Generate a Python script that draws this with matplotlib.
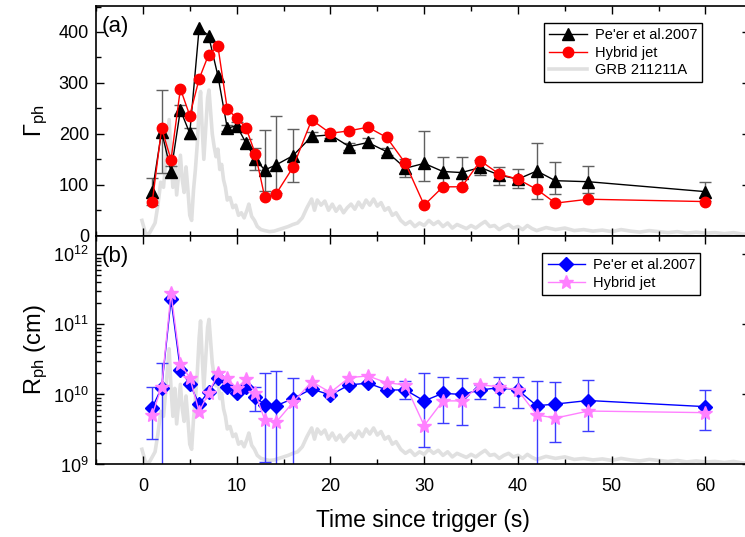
import numpy as np
import matplotlib
matplotlib.use("Agg")
import matplotlib.pyplot as plt
import matplotlib.transforms as mtransforms
from matplotlib.ticker import MultipleLocator, LogLocator, NullFormatter

plt.rcParams['font.family'] = ['Liberation Sans', 'DejaVu Sans']
plt.rcParams['mathtext.fontset'] = 'custom'
plt.rcParams['mathtext.rm'] = 'Liberation Sans'
plt.rcParams['mathtext.it'] = 'Liberation Sans:italic'
plt.rcParams['mathtext.bf'] = 'Liberation Sans:bold'

# ---------------- data ----------------
time = [1, 2, 3, 4, 5, 6, 7, 8, 9, 10, 11, 12, 13, 14.2, 16, 18, 20, 22, 24, 26,
        28, 30, 32, 34, 36, 38, 40, 42, 44, 47.5, 60]

gamma_peer = [86.5, 204.5, 126, 247, 201, 408, 393, 314, 211, 216, 182, 150, 129, 139, 157,
              195, 198, 175, 183, 165, 132.5, 142, 126, 124, 134, 119, 111,
              127, 108, 106, 86.5]
gamma_peer_lo = [60, 123, 116, 238, 190, np.nan, np.nan, np.nan, 205, 208, 172, 129, 87, 84, 106,
                 187, 192, 168, 175, 158, 116, 108, 96, 94, 119, 100, 93,
                 72, 81, 83, 68]
gamma_peer_hi = [114, 287, 136, 256, 212, np.nan, np.nan, np.nan, 218, 224, 190, 172, 208, 236, 210,
                 203, 204, 182, 191, 172, 150, 205, 155, 155, 149, 135, 130,
                 182, 144, 136, 105]
gamma_hybrid = [66, 211, 149, 288.5, 236, 308, 355, 372, 248.5, 231, 212, 160, 75.5, 82, 134,
                227.5, 201, 206, 213, 193, 142, 60, 96, 96, 147, 121, 111,
                91, 64, 71.6, 67]

r_peer = [6.5e9, 1.25e10, 2.29e11, 2.24e10, 1.41e10, 7.3e9, 1.1e10, 1.7e10, 1.29e10, 1.04e10,
          1.29e10, 9.3e9, 7.1e9, 6.9e9, 8.7e9,
          1.2e10, 9.8e9, 1.37e10, 1.45e10, 1.16e10, 1.16e10, 8.1e9, 1.04e10, 1.0e10, 1.16e10,
          1.25e10, 1.16e10, 6.9e9, 7.3e9, 8.2e9, 6.7e9]
r_peer_lo = [2.3e9, 1e8, np.nan, np.nan, np.nan, np.nan, np.nan, np.nan, np.nan, np.nan,
             np.nan, 5.8e9, 1.1e9, 1e8, 1e8,
             np.nan, np.nan, np.nan, np.nan, np.nan, 8.5e9, 1.76e9, 3.95e9, 3.7e9, 8.6e9,
             6.6e9, 6.4e9, 1e8, 2.1e9, 3.0e9, 3.1e9]
r_peer_hi = [1.29e10, 2.79e10, np.nan, np.nan, np.nan, np.nan, np.nan, np.nan, np.nan, np.nan,
             np.nan, 1.29e10, 2.05e10, 2.19e10, 1.74e10,
             np.nan, np.nan, np.nan, np.nan, np.nan, 1.56e10, 2.0e10, 1.8e10, 1.74e10, 1.36e10,
             1.8e10, 1.75e10, 1.57e10, 1.52e10, 1.61e10, 1.16e10]
r_hybrid = [5.1e9, 1.29e10, 2.79e11, 2.73e10, 1.74e10, 5.7e9, 1.04e10, 2.0e10, 1.7e10, 1.23e10,
            1.65e10, 1.04e10, 4.3e9, 4.0e9, 7.7e9,
            1.52e10, 1.07e10, 1.74e10, 1.84e10, 1.47e10, 1.37e10, 3.6e9, 8.1e9, 8.1e9, 1.37e10,
            1.29e10, 1.15e10, 5.1e9, 4.6e9, 5.8e9, 5.5e9]

# GRB 211211A light curve (arbitrary units, drawn on the Gamma scale)
lc_time = [-0.1, 0.3, 0.7, 1.0, 1.3, 1.6, 1.9, 2.2, 2.5, 2.8, 3.0, 3.2, 3.4, 3.6, 3.8, 4.0,
           4.2, 4.4, 4.6, 4.8, 5.0, 5.2, 5.4, 5.6, 5.8, 6.0, 6.15, 6.3, 6.5, 6.7, 6.9, 7.05,
           7.2, 7.4, 7.6, 7.8, 8.0, 8.2, 8.4, 8.6, 8.8, 9.0, 9.3, 9.6, 9.9, 10.2, 10.5, 10.8,
           11.1, 11.3, 11.6, 11.9, 12.2, 12.6, 13.0, 13.5, 14.0, 14.5, 15.0, 15.5, 16.0, 16.5,
           17.0, 17.5, 18.0, 18.3, 18.6, 19.0, 19.4, 19.8, 20.2, 20.6, 21.0, 21.4, 21.8, 22.2,
           22.6, 23.0, 23.4, 23.8, 24.2, 24.6, 25.0, 25.4, 25.8, 26.2, 26.6, 27.0, 27.5, 28.0,
           28.5, 29.0, 29.5, 30.0, 30.5, 31.0, 31.5, 32.0, 32.5, 33.0, 33.5, 34.0, 34.5, 35.0,
           35.5, 36.0, 36.5, 37.0, 37.5, 38.0, 38.5, 39.0, 39.5, 40.0, 40.5, 41.0, 41.5, 42.0,
           43.0, 44.0, 45.0, 46.0, 47.0, 48.0, 49.0, 50.0, 51.0, 52.0, 53.0, 54.0, 55.0, 56.0,
           57.0, 58.0, 59.0, 60.0, 61.0, 62.0, 63.0, 64.0, 65.0]
lc_counts = [30, 3, 5, 15, 25, 60, 105, 95, 160, 228, 150, 95, 150, 80, 120, 158,
             110, 85, 135, 90, 40, 30, 90, 130, 180, 250, 283, 220, 150, 210, 270, 286,
             250, 200, 175, 155, 170, 130, 140, 110, 95, 70, 75, 55, 60, 40, 45, 35,
             50, 62, 38, 30, 18, 12, 10, 8, 9, 12, 15, 18, 22, 25,
             35, 55, 72, 50, 70, 60, 68, 50, 62, 48, 58, 45, 55, 62,
             52, 66, 55, 70, 60, 72, 58, 65, 50, 55, 40, 45, 30, 22,
             28, 18, 25, 20, 30, 22, 28, 18, 25, 15, 22, 18, 14, 20,
             15, 22, 28, 18, 20, 12, 18, 22, 15, 18, 12, 20, 14, 10,
             16, 12, 15, 10, 12, 9, 11, 8, 12, 9, 7, 10, 8, 6,
             8, 5, 7, 5, 6, 4, 6, 3, 4]

xlim = (-5, 64.75)
gamma_ylim = (0, 451)
r_ylim = (1e9, 1.85e12)

# ---------------- figure ----------------
fig = plt.figure(figsize=(7.45, 5.37), dpi=100)
ax1 = fig.add_axes([0.12886, 0.56108, 0.8779, 0.42775])
ax2 = fig.add_axes([0.12886, 0.13501, 0.8779, 0.42607], sharex=ax1)

grey = '#e0e0e0'
tick_fs = 13

# ---- top panel ----
t = np.array(time)
gp = np.array(gamma_peer)
glo = np.array(gamma_peer_lo)
ghi = np.array(gamma_peer_hi)
m = ~np.isnan(glo)

lg, = ax1.plot(lc_time, lc_counts, color=grey, lw=2.6, zorder=1, label='GRB 211211A')
ax1.errorbar(t[m], gp[m], yerr=[gp[m] - glo[m], ghi[m] - gp[m]], fmt='none',
             ecolor='#606060', elinewidth=1.0, capsize=4, capthick=1.0, zorder=2)
l1, = ax1.plot(t, gp, color='black', lw=1.0, marker='^', ms=8, mfc='black', mec='black',
               zorder=3, label="Pe'er et al.2007")
l2, = ax1.plot(t, gamma_hybrid, color='#ff0000', lw=1.0, marker='o', ms=7.5, mfc='#ff0000',
               mec='#ff0000', zorder=4, label='Hybrid jet')

ax1.set_xlim(*xlim)
ax1.set_ylim(*gamma_ylim)
ax1.yaxis.set_major_locator(MultipleLocator(100))
ax1.yaxis.set_minor_locator(MultipleLocator(50))
ax1.xaxis.set_major_locator(MultipleLocator(10))
ax1.xaxis.set_minor_locator(MultipleLocator(5))
ax1.set_ylabel(r'$\Gamma_{\rm ph}$', fontsize=17)
ax1.yaxis.set_label_coords(-0.07, 0.5)
ax1.text(0.008, 0.955, '(a)', transform=ax1.transAxes, fontsize=16, ha='left', va='top')
leg1 = ax1.legend(handles=[l1, l2, lg], loc='upper right', bbox_to_anchor=(0.927, 0.926),
                  borderaxespad=0, fontsize=10.5, frameon=True, fancybox=False,
                  edgecolor='black', framealpha=1, handlelength=2.6, labelspacing=0.25,
                  borderpad=0.35, handletextpad=0.5)
leg1.get_frame().set_linewidth(1.0)

# ---- bottom panel ----
rp = np.array(r_peer)
rlo = np.array(r_peer_lo)
rhi = np.array(r_peer_hi)
mr = ~np.isnan(rlo)

blend = mtransforms.blended_transform_factory(ax2.transData, ax2.transAxes)
ax2.plot(lc_time, np.array(lc_counts) / gamma_ylim[1], color=grey, lw=2.6, zorder=1,
         transform=blend)
ax2.errorbar(t[mr], rp[mr], yerr=[rp[mr] - rlo[mr], rhi[mr] - rp[mr]], fmt='none',
             ecolor='#3c3cff', elinewidth=1.0, capsize=4, capthick=1.0, zorder=2)
b1, = ax2.plot(t, rp, color='#0000ff', lw=1.0, marker='D', ms=7.5, mfc='#0000ff', mec='#0000ff',
               zorder=3, label="Pe'er et al.2007")
b2, = ax2.plot(t, r_hybrid, color='#ff80ff', lw=1.0, marker='*', ms=10, mfc='#ff80ff',
               mec='#ff80ff', zorder=4, label='Hybrid jet')
ax2.set_yscale('log')
ax2.set_ylim(*r_ylim)
ax2.yaxis.set_major_locator(LogLocator(base=10, numticks=10))
ax2.yaxis.set_minor_locator(LogLocator(base=10, subs=np.arange(2, 10), numticks=10))
ax2.yaxis.set_minor_formatter(NullFormatter())
ax2.set_xlim(*xlim)
ax2.set_ylabel(r'R$_{\rm ph}$ (cm)', fontsize=17)
ax2.yaxis.set_label_coords(-0.07, 0.5)
ax2.set_xlabel('Time since trigger (s)', fontsize=16.5, labelpad=10)
ax2.text(0.008, 0.955, '(b)', transform=ax2.transAxes, fontsize=16, ha='left', va='top')
leg2 = ax2.legend(handles=[b1, b2], loc='upper right', bbox_to_anchor=(0.924, 0.924),
                  borderaxespad=0, fontsize=10.5, frameon=True, fancybox=False,
                  edgecolor='black', framealpha=1, handlelength=2.6, labelspacing=0.25,
                  borderpad=0.35, handletextpad=0.5)
leg2.get_frame().set_linewidth(1.0)

for ax in (ax1, ax2):
    ax.tick_params(which='both', direction='in', top=True, right=True, labelsize=tick_fs)
    ax.tick_params(which='major', length=6, width=1.0)
    ax.tick_params(which='minor', length=3.5, width=1.0)
    ax.tick_params(axis='x', pad=10)
    ax.tick_params(axis='y', pad=5)
    for s in ax.spines.values():
        s.set_linewidth(1.2)
ax1.tick_params(labelbottom=False)

fig.savefig('out.png', dpi=100)
